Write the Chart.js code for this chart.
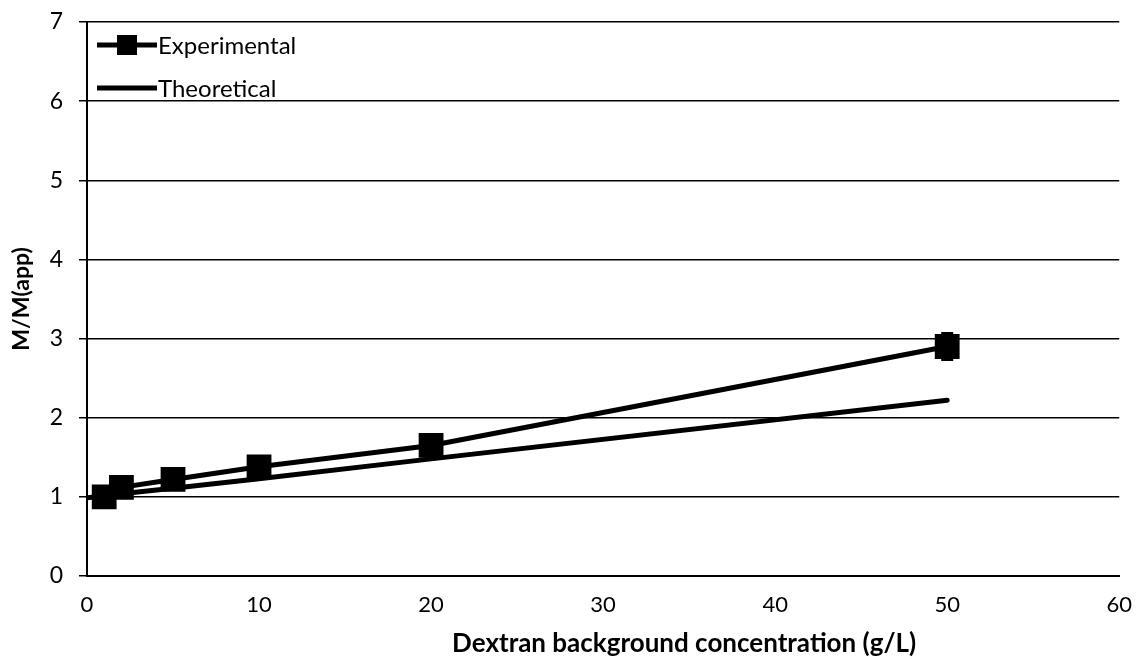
<!DOCTYPE html>
<html>
<head>
<meta charset="utf-8">
<script src="https://cdn.jsdelivr.net/npm/chart.js@4.4.1/dist/chart.umd.min.js"></script>
<style>
  html, body { margin: 0; padding: 0; background: #fff; }
  #wrap { width: 1140px; height: 659px; }
</style>
</head>
<body>
<div id="wrap"><canvas id="chart"></canvas></div>
<script>
// values
const concentrations = [1, 2, 5, 10, 20, 50];
const experimental = [1.0, 1.12, 1.22, 1.38, 1.65, 2.9];
const experimentalErr = [0.02, 0.03, 0.03, 0.04, 0.06, 0.17];
const theoryX = [0, 1, 2, 5, 10, 20, 50];
const theoretical = [0.99, 1.01, 1.04, 1.11, 1.23, 1.48, 2.22];
const xTicks = [0, 10, 20, 30, 40, 50, 60];
const yTicks = [0, 1, 2, 3, 4, 5, 6, 7];
const xTitle = 'Dextran background concentration (g/L)';

const fontFamily = 'Lato, "Open Sans", sans-serif';

// error bars on the experimental points
const errorBars = {
    id: 'errorBars',
    afterDatasetsDraw(chart) {
        const { ctx, scales: { x, y } } = chart;
        ctx.save();
        ctx.strokeStyle = '#000';
        ctx.lineWidth = 2;
        concentrations.forEach((c, i) => {
            const px = x.getPixelForValue(c);
            const top = y.getPixelForValue(experimental[i] + experimentalErr[i]);
            const bot = y.getPixelForValue(experimental[i] - experimentalErr[i]);
            ctx.beginPath();
            ctx.moveTo(px, top); ctx.lineTo(px, bot);
            ctx.moveTo(px - 6, top); ctx.lineTo(px + 6, top);
            ctx.moveTo(px - 6, bot); ctx.lineTo(px + 6, bot);
            ctx.stroke();
        });
        ctx.restore();
    }
};

// legend inside the plot (top left) and the x axis title, which sits right of centre
const annotations = {
    id: 'annotations',
    afterDraw(chart) {
        const { ctx, chartArea } = chart;
        ctx.save();
        ctx.font = '24px ' + fontFamily;
        ctx.fillStyle = '#000';
        ctx.textBaseline = 'middle';
        const items = [
            { label: 'Experimental', marker: true },
            { label: 'Theoretical', marker: false }
        ];
        items.forEach((it, i) => {
            const yy = chartArea.top + 23 + i * 43;
            const x0 = chartArea.left + 10;
            ctx.strokeStyle = '#000';
            ctx.lineWidth = 5;
            ctx.beginPath();
            ctx.moveTo(x0, yy); ctx.lineTo(x0 + 60, yy);
            ctx.stroke();
            if (it.marker) ctx.fillRect(x0 + 20, yy - 10, 20, 20);
            ctx.fillText(it.label, x0 + 61, yy + 1);
        });

        ctx.font = 'bold 26px ' + fontFamily;
        ctx.textAlign = 'center';
        ctx.fillText(xTitle, (chartArea.left + chartArea.right) / 2 + 81, chartArea.bottom + 68);
        ctx.restore();
    }
};

new Chart(document.getElementById('chart'), {
    type: 'scatter',
    data: {
        datasets: [
            {
                label: 'Experimental',
                data: concentrations.map((c, i) => ({ x: c, y: experimental[i] })),
                showLine: true,
                borderColor: '#000',
                backgroundColor: '#000',
                borderWidth: 5,
                pointStyle: 'rect',
                pointRadius: 14,
                pointHoverRadius: 14
            },
            {
                label: 'Theoretical',
                data: theoryX.map((c, i) => ({ x: c, y: theoretical[i] })),
                showLine: true,
                borderColor: '#000',
                backgroundColor: '#000',
                borderWidth: 5,
                borderCapStyle: 'round',
                pointRadius: 0
            }
        ]
    },
    options: {
        responsive: true,
        maintainAspectRatio: false,
        animation: false,
        layout: { padding: { top: 22, right: 20, left: 8, bottom: 0 } },
        plugins: {
            legend: { display: false },
            tooltip: { enabled: false }
        },
        scales: {
            x: {
                type: 'linear',
                min: 0, max: 60,
                afterBuildTicks: axis => { axis.ticks = xTicks.map(v => ({ value: v })); },
                afterFit: axis => { axis.height = 83; },
                grid: { display: false, drawOnChartArea: false },
                border: { color: '#000', width: 2 },
                ticks: { color: '#000', font: { size: 22, family: fontFamily }, padding: 8 },
                title: { display: false }
            },
            y: {
                min: 0, max: 7,
                afterBuildTicks: axis => { axis.ticks = yTicks.map(v => ({ value: v })); },
                afterFit: axis => {
                    axis.width = 79;
                    axis.paddingTop = 0;
                    axis.paddingBottom = 0;
                },
                grid: { color: '#000', lineWidth: 1.5, tickLength: 8 },
                border: { color: '#000', width: 2 },
                ticks: { color: '#000', font: { size: 23, family: fontFamily }, padding: 16 },
                title: {
                    display: true,
                    text: 'M/M(app)',
                    color: '#000',
                    font: { size: 23, weight: 'bold', family: fontFamily },
                    padding: { top: 0, bottom: 8 }
                }
            }
        }
    },
    plugins: [errorBars, annotations]
});
</script>
</body>
</html>
